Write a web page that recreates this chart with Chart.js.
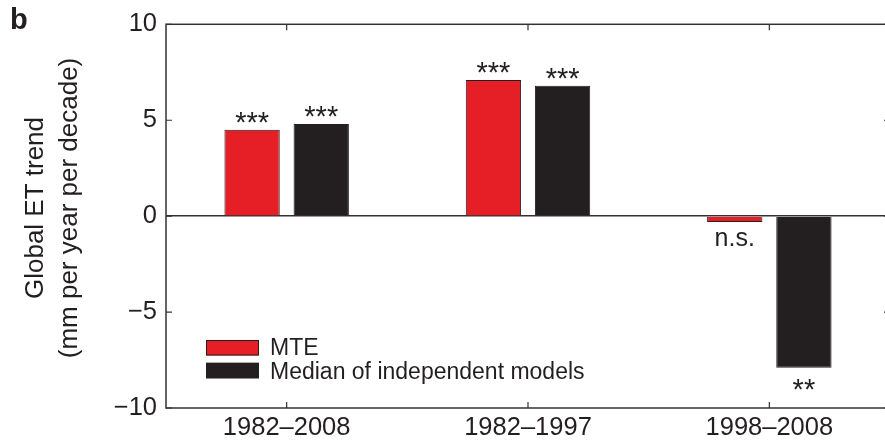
<!DOCTYPE html>
<html>
<head>
<meta charset="utf-8">
<script src="https://cdn.jsdelivr.net/npm/chart.js@4/dist/chart.umd.min.js"></script>
<style>
  html, body { margin: 0; padding: 0; background: #fff; overflow: hidden; }
  #wrap { width: 885px; height: 442px; overflow: hidden; position: relative; }
  canvas { display: block; }
</style>
</head>
<body>
<div id="wrap"><canvas id="c" width="900" height="442"></canvas></div>
<script>
// Global evapotranspiration trend by period (mm per year per decade)
const periods = ['1982–2008', '1982–1997', '1998–2008'];
const mteTrend = [4.5, 7.1, -0.3];
const medianTrend = [4.8, 6.8, -7.9];
const mteSignificance = ['***', '***', 'n.s.'];
const medianSignificance = ['***', '***', '**'];
const yTicks = [-10, -5, 0, 5, 10];
const seriesNames = ['MTE', 'Median of independent models'];
const yTitle = ['Global ET trend', '(mm per year per decade)'];
const panelLetter = 'b';

const FONT = "'Liberation Sans', Arial, Helvetica, sans-serif";
const INK = '#231f20';
const AXIS = '#333333';
const RED = '#e61e25';

// box around the plot with short inward tick marks on all four sides
const framePlugin = {
  id: 'frame',
  afterDatasetsDraw(chart) {
    const { ctx, chartArea: a, scales: { x, y } } = chart;
    ctx.save();
    ctx.strokeStyle = AXIS;
    ctx.lineWidth = 1.5;
    ctx.strokeRect(a.left, a.top, a.right - a.left, a.bottom - a.top);
    const tl = 6;
    ctx.lineWidth = 1.2;
    ctx.beginPath();
    y.ticks.forEach(t => {
      const p = y.getPixelForValue(t.value);
      ctx.moveTo(a.left, p); ctx.lineTo(a.left + tl, p);
      ctx.moveTo(a.right, p); ctx.lineTo(a.right - tl, p);
    });
    x.ticks.forEach((t, i) => {
      const p = x.getPixelForTick(i);
      ctx.moveTo(p, a.bottom); ctx.lineTo(p, a.bottom - tl);
      ctx.moveTo(p, a.top); ctx.lineTo(p, a.top + tl);
    });
    ctx.stroke();
    ctx.restore();
  }
};

// significance marks, in-plot legend, axis title and panel letter
const notesPlugin = {
  id: 'notes',
  afterDraw(chart) {
    const { ctx } = chart;
    const marks = [mteSignificance, medianSignificance];
    ctx.save();
    ctx.fillStyle = INK;
    ctx.textAlign = 'center';
    ctx.textBaseline = 'alphabetic';
    chart.data.datasets.forEach((ds, di) => {
      const meta = chart.getDatasetMeta(di);
      meta.data.forEach((bar, j) => {
        const txt = marks[di][j];
        const isStar = txt.indexOf('*') === 0;
        ctx.font = (isStar ? '29px ' : '25px ') + FONT;
        const m = ctx.measureText(txt);
        const v = ds.data[j];
        const cy = v >= 0 ? bar.y - 12.5 : bar.y + 17;
        const base = cy - (m.actualBoundingBoxDescent - m.actualBoundingBoxAscent) / 2;
        ctx.fillText(txt, bar.x, base);
      });
    });

    // legend
    const lx = 206, lw = 53, lh = 15.5;
    const rows = [{ top: 340, base: 354.5 }, { top: 362.8, base: 378.5 }];
    ctx.textAlign = 'left';
    ctx.font = '23px ' + FONT;
    chart.data.datasets.forEach((ds, di) => {
      const r = rows[di];
      ctx.fillStyle = ds.backgroundColor;
      ctx.fillRect(lx, r.top, lw, lh);
      ctx.strokeStyle = INK;
      ctx.lineWidth = 1;
      ctx.strokeRect(lx + 0.5, r.top + 0.5, lw - 1, lh - 1);
      ctx.fillStyle = INK;
      ctx.fillText(ds.label, 270, r.base);
    });

    // rotated y-axis title
    ctx.font = '26px ' + FONT;
    ctx.textAlign = 'center';
    const baselines = [43, 77];
    yTitle.forEach((line, i) => {
      ctx.save();
      ctx.translate(baselines[i], 208);
      ctx.rotate(-Math.PI / 2);
      ctx.fillText(line, 0, 0);
      ctx.restore();
    });

    // panel letter
    ctx.font = 'bold 29px ' + FONT;
    ctx.textAlign = 'left';
    ctx.fillText(panelLetter, 10, 28.5);
    ctx.restore();
  }
};

new Chart(document.getElementById('c'), {
  type: 'bar',
  data: {
    labels: periods,
    datasets: [
      { label: seriesNames[0], data: mteTrend, backgroundColor: RED, borderColor: INK, borderWidth: 1 },
      { label: seriesNames[1], data: medianTrend, backgroundColor: INK, borderColor: INK, borderWidth: 1 }
    ]
  },
  options: {
    responsive: false,
    animation: false,
    devicePixelRatio: 1,
    categoryPercentage: 0.573,
    barPercentage: 0.8,
    layout: { padding: { top: 22, right: 10, left: 0, bottom: 0 } },
    plugins: { legend: { display: false }, tooltip: { enabled: false } },
    scales: {
      x: {
        afterFit: s => { s.height = 34; },
        grid: { display: false, drawTicks: false },
        border: { display: false },
        ticks: { padding: 5, color: INK, maxRotation: 0, autoSkip: false, font: { family: FONT, size: 25.5 } }
      },
      y: {
        min: -10,
        max: 10,
        afterBuildTicks: s => { s.ticks = yTicks.map(v => ({ value: v })); },
        afterFit: s => { s.width = 166; },
        grid: {
          drawTicks: false,
          lineWidth: 1.5,
          color: c => (c.tick && c.tick.value === 0 ? AXIS : 'rgba(0,0,0,0)')
        },
        border: { display: false },
        ticks: {
          padding: 9,
          color: INK,
          font: { family: FONT, size: 25.5 },
          callback: v => (v < 0 ? '\u2212' + Math.abs(v) : String(v))
        }
      }
    }
  },
  plugins: [framePlugin, notesPlugin]
});
</script>
</body>
</html>
